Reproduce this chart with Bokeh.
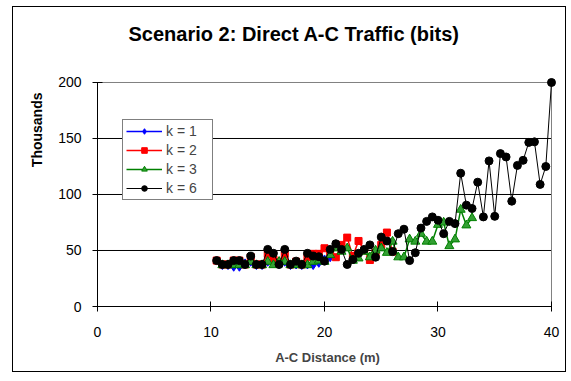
from bokeh.plotting import figure
from bokeh.models import Range1d, FixedTicker, Legend, LegendItem, Title
from bokeh.embed import file_html
from bokeh.resources import INLINE

# A-C distance in metres (0.5 m steps)
distance = [10.5, 11.0, 11.5, 12.0, 12.5, 13.0, 13.5, 14.0, 14.5, 15.0,
            15.5, 16.0, 16.5, 17.0, 17.5, 18.0, 18.5, 19.0, 19.5, 20.0,
            20.5, 21.0, 21.5, 22.0, 22.5, 23.0, 23.5, 24.0, 24.5, 25.0,
            25.5, 26.0, 26.5, 27.0, 27.5, 28.0, 28.5, 29.0, 29.5, 30.0,
            30.5, 31.0, 31.5, 32.0, 32.5, 33.0, 33.5, 34.0, 34.5, 35.0,
            35.5, 36.0, 36.5, 37.0, 37.5, 38.0, 38.5, 39.0, 39.5, 40.0]

# Direct A-C traffic, thousands of bits
traffic_k1 = [37, 37, 35.5, 35.5, 38.5, 40, 37, 37, 40, 41.5,
              38, 40, 37, 37.5, 37, 37.5, 37, 39, 42, 44]            # 11.0 .. 20.5 m
traffic_k2 = [41, 37.5, 37.5, 41, 41, 37.5, 44, 37.5, 37.5, 47,
              42, 40, 47, 37.5, 40, 37.5, 44, 47, 47, 52,
              47, 44, 55, 61.5, 45, 58.5, 50, 41.5, 48, 55,
              66, 49]                                                # 10.5 .. 26.0 m
traffic_k3 = [37, 37, 37, 37, 37, 40, 37, 37, 40, 37,
              40, 40, 37, 37, 37, 37, 40, 41, 40, 46,
              52, 49, 52, 41, 43, 49, 44, 50, 52, 48,
              58, 44, 44, 60, 58, 65, 58, 58, 73, 75,
              54, 60, 86.5, 72.5, 79]                                # 11.0 .. 33.0 m
traffic_k6 = [41, 37.5, 37.5, 41, 41, 37.5, 45, 37.5, 37.5, 51,
              47.5, 37.5, 51, 37.5, 40.5, 37.5, 47.5, 45, 44.5, 40.5,
              51, 56, 51, 37.5, 42, 47.5, 51, 55, 44, 62,
              58.5, 49, 65, 69, 41, 48, 70, 76, 80, 77,
              65, 76, 74, 119, 90.5, 87.5, 111, 80, 130, 80.5,
              136.5, 133.5, 94, 126, 130.5, 146.5, 147, 109, 125, 200]  # 10.5 .. 40.0 m

x_ticks = [0, 10, 20, 30, 40]
y_ticks = [0, 50, 100, 150, 200]
grid_levels = [50, 100, 150]

X_MAX, Y_MAX = 40, 200
FONT = "Liberation Sans"

# the chart sits inside a thin black border drawn around the figure element
p = figure(width=554, height=366, output_backend="svg", toolbar_location=None,
           x_range=Range1d(0, 40.53), y_range=Range1d(0, 205.35),
           min_border_left=84, min_border_right=10,
           min_border_top=69, min_border_bottom=67,
           background_fill_color="white", border_fill_color="white")
p.styles = {"margin-left": "12px", "margin-top": "6px",
            "border": "1px solid black"}
p.outline_line_color = None
p.xgrid.visible = False
p.ygrid.visible = False

# plot-area gridlines and border
p.segment(x0=0, x1=X_MAX, y0=grid_levels, y1=grid_levels,
          line_color="black", line_width=1)
p.segment(x0=[0, X_MAX], x1=[X_MAX, X_MAX], y0=[Y_MAX, 0], y1=[Y_MAX, Y_MAX],
          line_color="#808080", line_width=1)

for ax in (p.xaxis, p.yaxis):
    ax.axis_line_color = "black"
    ax.major_tick_line_color = "black"
    ax.major_tick_in = 5
    ax.major_tick_out = 5
    ax.minor_tick_line_color = None
    ax.major_label_text_font = FONT
    ax.major_label_text_font_size = "14px"
    ax.major_label_text_color = "black"

p.xaxis.ticker = FixedTicker(ticks=x_ticks)
p.yaxis.ticker = FixedTicker(ticks=y_ticks)
p.xaxis.bounds = (0, X_MAX)
p.yaxis.bounds = (0, Y_MAX)
p.xaxis.major_label_standoff = 15
p.yaxis.major_label_standoff = 11
p.xaxis.axis_label = "A-C Distance (m)"
p.xaxis.axis_label_text_font = FONT
p.xaxis.axis_label_text_font_size = "13px"
p.xaxis.axis_label_text_font_style = "bold"
p.xaxis.axis_label_standoff = 10

# series
r1l = p.line(distance[1:21], traffic_k1, line_color="#0000FF", line_width=1.5)
r1m = p.scatter(distance[1:21], traffic_k1, marker="diamond", size=9,
                fill_color="#0000FF", line_color="#0000FF")
r2l = p.line(distance[0:32], traffic_k2, line_color="#FF0000", line_width=1.5)
r2m = p.scatter(distance[0:32], traffic_k2, marker="square", size=7,
                fill_color="#FF0000", line_color="#FF0000")
r3l = p.line(distance[1:46], traffic_k3, line_color="#008000", line_width=1.5)
r3m = p.scatter(distance[1:46], traffic_k3, marker="triangle", size=9,
                fill_color="#33A033", line_color="#008000")
r6l = p.line(distance, traffic_k6, line_color="black", line_width=1)
r6m = p.scatter(distance, traffic_k6, marker="circle", size=8,
                fill_color="black", line_color="black")

legend = Legend(items=[
    LegendItem(label="k = 1", renderers=[r1l, r1m]),
    LegendItem(label="k = 2", renderers=[r2l, r2m]),
    LegendItem(label="k = 3", renderers=[r3l, r3m]),
    LegendItem(label="k = 6", renderers=[r6l, r6m]),
], location=(25, 106))
legend.label_text_font = FONT
legend.label_text_font_size = "14px"
legend.glyph_width = 36
legend.glyph_height = 14
legend.label_height = 14
legend.label_width = 43
legend.label_standoff = 4
legend.spacing = 3
legend.padding = 3
legend.margin = 0
legend.border_line_color = "black"
legend.border_line_width = 1
legend.background_fill_color = "white"
legend.background_fill_alpha = 1
p.add_layout(legend)

# chart title: a blank spacer next to the frame lifts the title towards the top border
p.add_layout(Title(text=" ", text_font_size="1px", standoff=24), "above")
p.add_layout(Title(text="Scenario 2: Direct A-C Traffic (bits)", align="left",
                   offset=31, standoff=10, text_font=FONT, text_font_size="20px",
                   text_font_style="bold", text_color="black"), "above")
# display-unit label for the value axis
p.add_layout(Title(text="Thousands", align="right", offset=16, standoff=22,
                   text_font=FONT, text_font_size="14px", text_font_style="bold",
                   text_color="black"), "left")

open("out.html", "w").write(file_html(p, INLINE))
